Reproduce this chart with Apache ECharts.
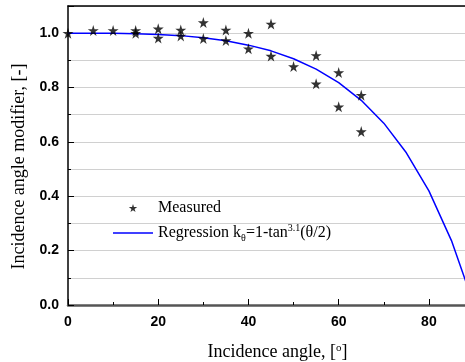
<!DOCTYPE html>
<html>
<head>
<meta charset="utf-8">
<script src="https://cdn.jsdelivr.net/npm/echarts@6/dist/echarts.min.js"></script>
<style>
  html, body { margin: 0; padding: 0; background: #fff; }
  #chart { width: 465px; height: 362px; }
</style>
</head>
<body>
<div id="chart"></div>
<script>
// measured points (angle in degrees, modifier)
var measuredAngle = [0, 5.6, 10, 15, 15, 20, 20, 25, 25, 30, 30, 35, 35, 40, 40, 45, 45, 50, 55, 55, 60, 60, 65, 65]
var measuredK = [1.0, 1.01, 1.01, 1.01, 1.0, 1.016, 0.982, 1.012, 0.99, 1.039, 0.98, 1.012, 0.973, 1.0, 0.943, 1.034, 0.916, 0.877, 0.918, 0.814, 0.855, 0.729, 0.772, 0.638]

// regression curve read at 5 degree steps
var regAngle = [0, 5, 10, 15, 20, 25, 30, 35, 40, 45, 50, 55, 60, 65, 70, 75, 80, 85, 90]
var regK = [1.0, 1.0, 0.9995, 0.998, 0.995, 0.991, 0.983, 0.972, 0.956, 0.935, 0.906, 0.868, 0.818, 0.753, 0.669, 0.56, 0.42, 0.237, 0.0]

var starPath = "path://M50,0 L61,35 L98,35 L68,57 L79,91 L50,70 L21,91 L32,57 L2,35 L39,35 Z"
var lineIcon = "path://M0,0 L40,0 L40,1.5 L0,1.5 Z"
var serif = "Liberation Serif"
var sans = "Liberation Sans"

var chart = echarts.init(document.getElementById("chart"))

var option = {
    animation: false,
    grid: {
        left: 68,
        right: 0,
        top: 6,
        bottom: 57,
        outerBoundsMode: "none"
    },
    legend: {
        orient: "vertical",
        left: 108,
        top: 193,
        itemWidth: 40,
        itemHeight: 8,
        itemGap: 5,
        data: [
            { name: "Measured", icon: starPath },
            { name: "Regression", icon: lineIcon }
        ],
        textStyle: {
            fontFamily: serif,
            fontSize: 16,
            color: "#000",
            lineHeight: 20,
            rich: {
                sub: { fontFamily: serif, fontSize: 10, lineHeight: 8, verticalAlign: "bottom", color: "#000" },
                sup: { fontFamily: serif, fontSize: 10, lineHeight: 10, verticalAlign: "top", color: "#000" }
            }
        },
        formatter: function (name) {
            if (name == "Regression") {
                return "Regression k{sub|θ}=1-tan{sup|3.1}(θ/2)"
            }
            return name
        }
    },
    xAxis: [
        {
            type: "value",
            min: 0,
            max: 88,
            interval: 20,
            name: "Incidence angle, [{sup|o}]",
            nameLocation: "middle",
            nameGap: 38,
            nameTextStyle: {
                fontFamily: serif,
                fontSize: 18,
                color: "#000",
                padding: [0, 0, 0, 22],
                rich: {
                    sup: { fontFamily: serif, fontSize: 11, lineHeight: 10, verticalAlign: "top", color: "#000" }
                }
            },
            axisLine: { show: true, onZero: false, lineStyle: { color: "#555", width: 2.5 } },
            axisTick: { show: true, inside: true, length: 6, lineStyle: { color: "#000", width: 1 } },
            minorTick: { show: true, splitNumber: 2, length: 3, lineStyle: { color: "#000" } },
            axisLabel: {
                margin: 10,
                fontFamily: sans,
                fontWeight: "bold",
                fontSize: 14,
                color: "#000",
                showMaxLabel: false
            },
            splitLine: { show: false }
        },
        {
            type: "value",
            position: "top",
            min: 0,
            max: 88,
            axisLine: { show: true, onZero: false, lineStyle: { color: "#000", width: 1.5 } },
            axisTick: { show: false },
            axisLabel: { show: false },
            splitLine: { show: false }
        }
    ],
    yAxis: {
        type: "value",
        min: 0,
        max: 1.1,
        interval: 0.2,
        name: "Incidence angle modifier, [-]",
        nameLocation: "middle",
        nameGap: 38,
        nameTextStyle: {
            fontFamily: serif,
            fontSize: 18,
            color: "#000",
            padding: [0, 22, 0, 0]
        },
        axisLine: { show: true, onZero: false, lineStyle: { color: "#000", width: 1.5 } },
        axisTick: { show: true, inside: true, length: 6, lineStyle: { color: "#000" } },
        minorTick: { show: true, splitNumber: 2, length: 3, lineStyle: { color: "#000" } },
        axisLabel: {
            margin: 9,
            fontFamily: sans,
            fontWeight: "bold",
            fontSize: 14,
            color: "#000",
            showMaxLabel: false,
            formatter: function (v) { return v.toFixed(1) }
        },
        splitLine: { show: true, lineStyle: { color: "#d0d0d0", width: 1 } },
        minorSplitLine: { show: true, lineStyle: { color: "#d0d0d0", width: 1 } }
    },
    series: [
        {
            name: "Regression",
            type: "line",
            symbol: "none",
            clip: true,
            data: regAngle.map(function (a, i) { return [a, regK[i]] }),
            lineStyle: { color: "#0000ff", width: 1.5 },
            itemStyle: { color: "#0000ff" },
            z: 2
        },
        {
            name: "Measured",
            type: "scatter",
            symbol: starPath,
            symbolSize: 11,
            data: measuredAngle.map(function (a, i) { return [a, measuredK[i]] }),
            itemStyle: { color: "#000" },
            z: 3
        }
    ]
}

chart.setOption(option)
</script>
</body>
</html>
